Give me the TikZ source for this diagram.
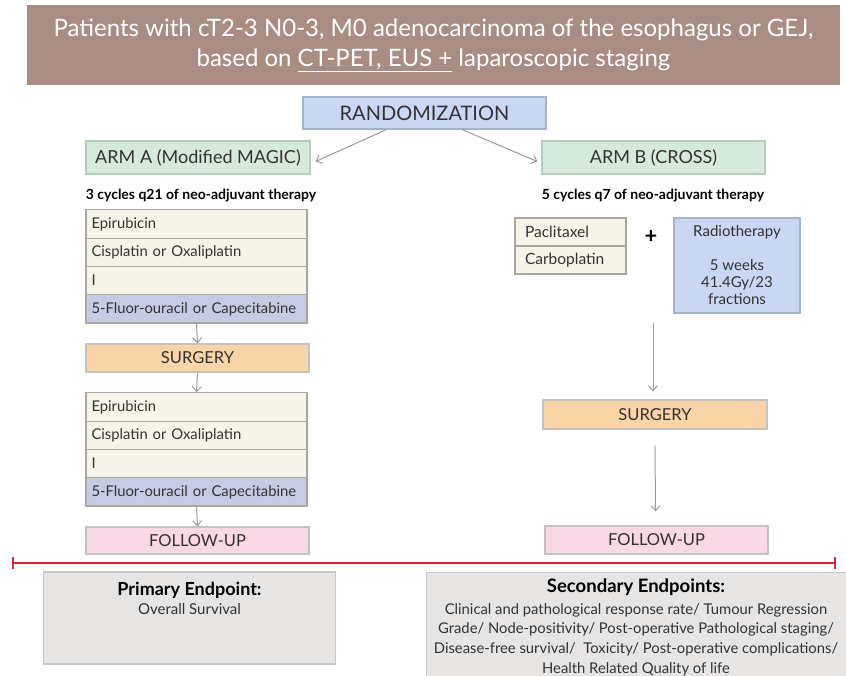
\documentclass[tikz,border=0pt]{standalone}
\usepackage{fontspec}
\setmainfont{Lato}
\usetikzlibrary{arrows.meta,calc}
\definecolor{titlebrown}{HTML}{A98D82}
\definecolor{randblue}{HTML}{C9D7F2}
\definecolor{randborder}{HTML}{A3B2CE}
\definecolor{armgreen}{HTML}{D5EADB}
\definecolor{armborder}{HTML}{B3CDBB}
\definecolor{beige}{HTML}{F6F4E8}
\definecolor{beigeborder}{HTML}{A9A8A0}
\definecolor{fublue}{HTML}{C6CAE3}
\definecolor{surgorange}{HTML}{F9D4A7}
\definecolor{fupink}{HTML}{F8D8E4}
\definecolor{endgray}{HTML}{E7E4E4}
\definecolor{endborder}{HTML}{C6C6C6}
\definecolor{lineRed}{HTML}{D7263D}
\definecolor{arrowgray}{HTML}{9A9A9A}
\definecolor{textdark}{HTML}{333333}
\tikzset{
  base/.style={draw, line width=1.2pt, inner sep=0pt, text=textdark},
  title/.style={base, draw=none, fill=titlebrown, text=white, align=center,
    font=\fontsize{24}{30}\selectfont},
  randbox/.style={base, draw=randborder, fill=randblue, font=\fontsize{20}{22}\selectfont},
  armbox/.style={base, draw=armborder, fill=armgreen, font=\fontsize{18}{20}\selectfont},
  drug/.style={base, draw=beigeborder, fill=beige, minimum height=28.3pt,
    text width=210pt, align=left, inner xsep=5.5pt, font=\fontsize{14.8}{17}\selectfont},
  fudrug/.style={drug, fill=fublue},
  rdrug/.style={base, draw=beigeborder, fill=beige, minimum height=28pt,
    text width=91pt, align=left, inner xsep=10pt, font=\fontsize{15.5}{17}\selectfont},
  surgbox/.style={base, draw=beigeborder!70, fill=surgorange, font=\fontsize{16.5}{19}\selectfont},
  fubox/.style={base, draw=beigeborder!70, fill=fupink, font=\fontsize{16.5}{19}\selectfont},
  cyc/.style={font=\fontsize{14}{16}\selectfont\bfseries, text=black},
  rtbox/.style={base, draw=randborder, fill=randblue, align=center, font=\fontsize{15}{17}\selectfont},
  endbox/.style={base, draw=endborder, fill=endgray},
  conn/.style={draw=arrowgray, line width=1pt, -{Straight Barb[length=5pt,width=9pt]}},
}
\begin{document}
\begin{tikzpicture}[x=1pt,y=-1pt]
\useasboundingbox (0,0) rectangle (846,676);
\fill[white] (0,0) rectangle (846,676);
% title
\node[title, minimum width=813pt, minimum height=80pt] (title) at (433.5,45)
  {Patients with cT2-3 N0-3, M0 adenocarcinoma of the esophagus or GEJ,\\
   based on \underline{CT-PET, EUS +} laparoscopic staging};
% randomization
\node[randbox, minimum width=243pt, minimum height=32pt] (rand) at (424.5,113) {RANDOMIZATION};
\node[armbox, minimum width=224pt, minimum height=33pt] (armA) at (198,157.5) {ARM A (Modified MAGIC)};
\node[armbox, minimum width=223pt, minimum height=33pt] (armB) at (653.5,157.5) {ARM B (CROSS)};
\draw[conn] ($(rand.south west)!0.344!(rand.south east)$) -- ($(armA.east)+(5,4)$);
\draw[conn] ($(rand.south west)!0.654!(rand.south east)$) -- ($(armB.west)+(-4,4)$);
% cycles
\node[cyc] (cycA) at (201,196) {3 cycles q21 of neo-adjuvant therapy};
\node[cyc] (cycB) at (653,196) {5 cycles q7 of neo-adjuvant therapy};
% left stack 1
\node[drug] (a1) at (196.5,224) {Epirubicin};
\node[drug] (a2) at (196.5,252.3) {Cisplatin or Oxaliplatin};
\node[drug] (a3) at (196.5,280.6) {I};
\node[fudrug] (a4) at (196.5,308.9) {5-Fluor-ouracil or Capecitabine};
\node[surgbox, minimum width=223pt, minimum height=28pt] (surgA) at (197.5,358) {SURGERY};
\node[drug] (b1) at (196.5,407) {Epirubicin};
\node[drug] (b2) at (196.5,435.3) {Cisplatin or Oxaliplatin};
\node[drug] (b3) at (196.5,463.6) {I};
\node[fudrug] (b4) at (196.5,491.9) {5-Fluor-ouracil or Capecitabine};
\node[fubox, minimum width=223pt, minimum height=27pt] (fuA) at (197.5,540.5) {FOLLOW-UP};
\draw[conn] (a4.south) -- (surgA.north);
\draw[conn] (surgA.south) -- (b1.north);
\draw[conn] (b4.south) -- (fuA.north);
% right arm
\node[rdrug] (p1) at (570.5,232) {Paclitaxel};
\node[rdrug] (p2) at (570.5,260) {Carboplatin};
\node[font=\fontsize{22}{24}\selectfont\bfseries, text=black] (plus) at (651,237) {+};
\node[rtbox, minimum width=126pt, minimum height=95pt] (rt) at (737,265.5)
  {Radiotherapy\\[17pt]5 weeks\\41.4Gy/23\\fractions};
\coordinate (rtop) at (653,323);
\node[surgbox, minimum width=224pt, minimum height=29pt] (surgB) at (655,414.5) {SURGERY};
\node[fubox, minimum width=223pt, minimum height=28pt] (fuB) at (656.5,540) {FOLLOW-UP};
\draw[conn] (rtop) -- ($(surgB.north)+(-2,-8)$);
\draw[conn] ($(surgB.south)+(0,16)$) -- ($(fuB.north)+(-1,-14)$);
% red line
\coordinate (rl) at (12,563);
\coordinate (rr) at (836,563);
\draw[lineRed, line width=2pt, {Bar[width=12pt]}-{Bar[width=12pt]}] (rl) -- (rr);
% endpoints
\node[endbox, minimum width=292pt, minimum height=92pt] (prim) at (189.5,618) {};
\node[font=\fontsize{18}{20}\selectfont\bfseries, text=black, anchor=north] (primT) at ($(prim.north)+(0,7)$) {Primary Endpoint:};
\node[font=\fontsize{15}{17}\selectfont, text=textdark, anchor=north] (primS) at ($(primT.south)+(0,-2)$) {Overall Survival};
\node[endbox, minimum width=430pt, minimum height=112pt, anchor=north west] (sec) at (425.5,572) {};
\node[font=\fontsize{18.5}{20}\selectfont\bfseries, text=black, anchor=north] (secT) at (636,575) {Secondary Endpoints:};
\node[font=\fontsize{14.8}{19.6}\selectfont, text=textdark, align=center, anchor=north] (secS) at ($(secT.south)+(0,1)$)
  {Clinical and pathological response rate/ Tumour Regression\\
   Grade/ Node-positivity/ Post-operative Pathological staging/\\
   Disease-free survival/\ \ Toxicity/ Post-operative complications/\\
   Health Related Quality of life};
\end{tikzpicture}
\end{document}
